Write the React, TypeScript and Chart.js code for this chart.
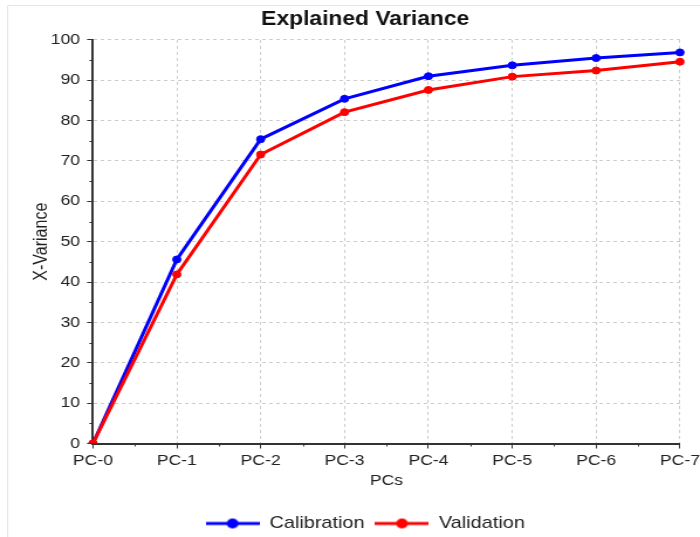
import React, { useEffect, useRef } from 'react';
import { Chart, registerables } from 'chart.js';

Chart.register(...registerables);

// ---- data ----
const CHART_TITLE = 'Explained Variance';
const X_TITLE = 'PCs';
const Y_TITLE = 'X-Variance';
const CATEGORIES = ['PC-0', 'PC-1', 'PC-2', 'PC-3', 'PC-4', 'PC-5', 'PC-6', 'PC-7'];
const CALIBRATION = [0, 45.6, 75.4, 85.4, 91.0, 93.7, 95.5, 96.9];
const VALIDATION = [0, 41.9, 71.6, 82.1, 87.6, 90.9, 92.4, 94.6];
const SERIES_NAMES = ['Calibration', 'Validation'];
const SERIES_COLORS = ['#0000ff', '#ff0000'];
const Y_MIN = 0;
const Y_MAX = 100;
const Y_STEP = 10;

// internal drawing width; the canvas is shown 700px wide
const W = 598;
const H = 537;
const FONT = "'Liberation Sans', Arial, sans-serif";

function legendSymbol(color: string): HTMLCanvasElement {
  const c = document.createElement('canvas');
  c.width = 46;
  c.height = 12;
  const ctx = c.getContext('2d')!;
  ctx.strokeStyle = color;
  ctx.fillStyle = color;
  ctx.lineWidth = 3;
  ctx.beginPath();
  ctx.moveTo(0, 6);
  ctx.lineTo(46, 6);
  ctx.stroke();
  ctx.beginPath();
  ctx.arc(23, 6, 5, 0, Math.PI * 2);
  ctx.fill();
  return c;
}

const framePlugin = {
  id: 'frame',
  beforeDraw(chart: any) {
    const ctx = chart.ctx;
    ctx.save();
    ctx.fillStyle = '#ffffff';
    ctx.fillRect(0, 0, chart.width, chart.height);
    ctx.strokeStyle = '#e4e4e4';
    ctx.lineWidth = 1;
    ctx.beginPath();
    ctx.moveTo(6.5, chart.height);
    ctx.lineTo(6.5, 5.5);
    ctx.lineTo(chart.width, 5.5);
    ctx.stroke();
    ctx.restore();
  },
};

const minorTicksPlugin = {
  id: 'minorTicks',
  afterDraw(chart: any) {
    const ctx = chart.ctx;
    const xs = chart.scales.x;
    const ys = chart.scales.y;
    const area = chart.chartArea;
    ctx.save();
    ctx.strokeStyle = '#333333';
    ctx.lineWidth = 1;
    ctx.beginPath();
    for (let v = Y_MIN + Y_STEP / 2; v < Y_MAX; v += Y_STEP) {
      const y = Math.round(ys.getPixelForValue(v)) + 0.5;
      ctx.moveTo(area.left - 3, y);
      ctx.lineTo(area.left, y);
    }
    for (let i = 0; i < CATEGORIES.length - 1; i++) {
      const x = Math.round(xs.getPixelForValue(i + 0.5)) + 0.5;
      ctx.moveTo(x, area.bottom);
      ctx.lineTo(x, area.bottom + 3);
    }
    ctx.stroke();
    ctx.restore();
  },
};

export default function App() {
  const ref = useRef<HTMLCanvasElement>(null);

  useEffect(() => {
    document.body.style.margin = '0';
    const symbols = SERIES_COLORS.map(legendSymbol);
    const chart = new Chart(ref.current!, {
      type: 'line',
      data: {
        labels: CATEGORIES,
        datasets: [
          {
            label: SERIES_NAMES[0],
            data: CALIBRATION,
            borderColor: SERIES_COLORS[0],
            backgroundColor: SERIES_COLORS[0],
            borderWidth: 3,
            pointRadius: 3.5,
            pointBorderWidth: 1,
            tension: 0,
            order: 1,
          },
          {
            label: SERIES_NAMES[1],
            data: VALIDATION,
            borderColor: SERIES_COLORS[1],
            backgroundColor: SERIES_COLORS[1],
            borderWidth: 3,
            pointRadius: 3.5,
            pointBorderWidth: 1,
            tension: 0,
            order: 0,
          },
        ],
      },
      options: {
        responsive: false,
        devicePixelRatio: 1,
        animation: false,
        layout: { padding: { left: 26, right: 0, top: 0, bottom: -5 } },
        plugins: {
          title: {
            display: true,
            text: CHART_TITLE,
            color: '#111111',
            font: { family: FONT, size: 19.5, weight: 'bold' },
            padding: { top: 8, bottom: 8.5 },
          },
          legend: {
            position: 'bottom',
            labels: {
              usePointStyle: true,
              pointStyleWidth: 46,
              padding: 9,
              color: '#222222',
              font: { family: FONT, size: 17 },
              generateLabels: (c: any) => {
                const items = Chart.defaults.plugins.legend.labels.generateLabels(c);
                items.sort((a: any, b: any) => a.datasetIndex - b.datasetIndex);
                items.forEach((it: any) => {
                  it.pointStyle = symbols[it.datasetIndex];
                });
                return items;
              },
            },
          },
          tooltip: { enabled: false },
        },
        scales: {
          x: {
            type: 'category',
            offset: false,
            afterFit: (s: any) => {
              s.height = 62.5;
              s.paddingRight = 17.1;
            },
            grid: {
              color: '#cccccc',
              lineWidth: 1,
              tickColor: '#333333',
              tickLength: 5,
            },
            border: { display: true, color: '#333333', width: 2, dash: [3, 3] },
            ticks: {
              color: '#222222',
              font: { family: FONT, size: 15 },
              padding: 3,
              maxRotation: 0,
              autoSkip: false,
            },
            title: {
              display: true,
              text: X_TITLE,
              color: '#222222',
              font: { family: FONT, size: 15 },
              padding: { top: 0, bottom: 16 },
            },
          },
          y: {
            min: Y_MIN,
            max: Y_MAX,
            afterFit: (s: any) => {
              s.width = 53.4;
            },
            grid: {
              color: '#cccccc',
              lineWidth: 1,
              tickColor: '#333333',
              tickLength: 5,
            },
            border: { display: true, color: '#333333', width: 2, dash: [3, 3] },
            ticks: {
              stepSize: Y_STEP,
              color: '#222222',
              font: { family: FONT, size: 15 },
              padding: 6,
            },
            title: {
              display: true,
              text: Y_TITLE,
              color: '#222222',
              font: { family: FONT, size: 16 },
              padding: { top: 0, bottom: 0 },
            },
          },
        },
      },
      plugins: [framePlugin, minorTicksPlugin],
    } as any);
    return () => chart.destroy();
  }, []);

  return (
    <div style={{ position: 'fixed', left: 0, top: 0, width: 700, height: H }}>
      <canvas
        ref={ref}
        width={W}
        height={H}
        style={{ width: '700px', height: `${H}px`, display: 'block' }}
      />
    </div>
  );
}
